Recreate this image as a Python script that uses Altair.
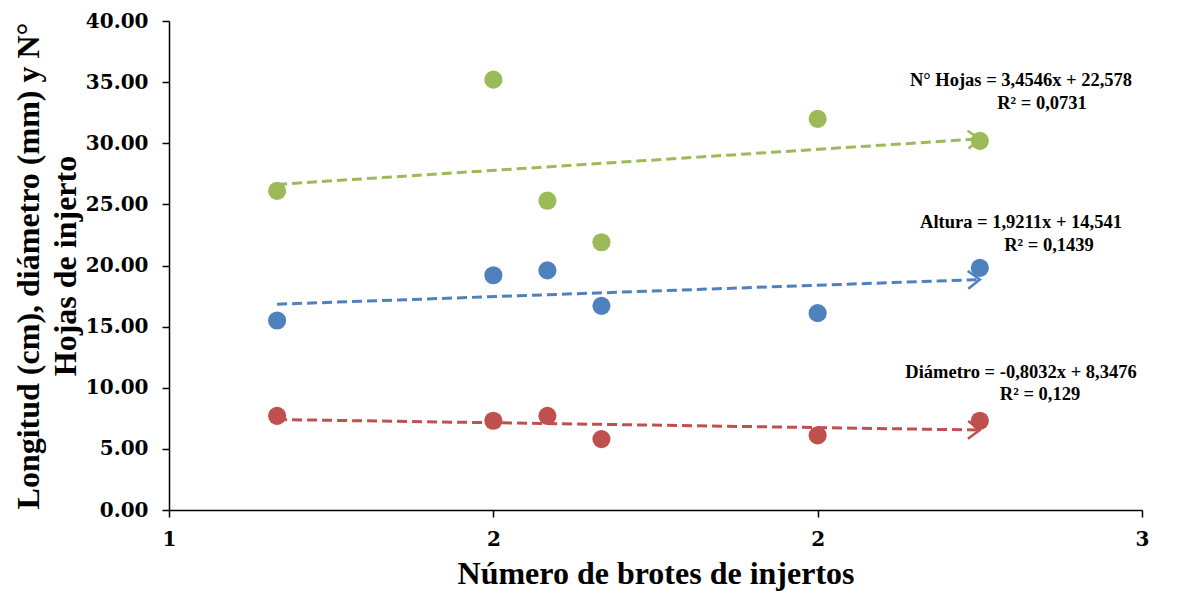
import altair as alt
import pandas as pd
import numpy as np

# ---- data ----
x_vals = [1.2222, 1.6667, 1.7778, 1.8889, 2.3333, 2.6667]
hojas = [26.1, 35.2, 25.3, 21.9, 32.0, 30.2]
altura = [15.5, 19.2, 19.6, 16.7, 16.1, 19.8]
diametro = [7.7, 7.3, 7.7, 5.8, 6.1, 7.3]

series_names = ["N° Hojas", "Altura", "Diámetro"]
series_colors = ["#9BBB59", "#4F81BD", "#C0504D"]
series_values = [hojas, altura, diametro]

eq_line1 = ["N° Hojas = 3,4546x + 22,578", "Altura = 1,9211x + 14,541", "Diámetro = -0,8032x + 8,3476"]
eq_line2 = ["R² = 0,0731", "R² = 0,1439", "R² = 0,129"]

x_ticks = [1, 5 / 3, 7 / 3, 3]
y_ticks = [0, 5, 10, 15, 20, 25, 30, 35, 40]

W, H = 973, 489
TICKFONT = "DejaVu Serif"
FONT = "Liberation Serif"

rows = []
for name, vals in zip(series_names, series_values):
    for xv, yv in zip(x_vals, vals):
        rows.append({"x": xv, "y": yv, "serie": name})
df = pd.DataFrame(rows)

# arrow angle (pixel space) per series
ang_rows = []
for name, vals in zip(series_names, series_values):
    slope = np.polyfit(x_vals, vals, 1)[0]
    pix = slope * (H / 40) / (W / 2)
    ang = (-np.degrees(np.arctan(pix))) % 360
    ang_rows.append({"serie": name, "angle": float(ang)})
df_ang = pd.DataFrame(ang_rows)

color = alt.Color("serie:N", scale=alt.Scale(domain=series_names, range=series_colors), legend=None)

xs = alt.X("x:Q", scale=alt.Scale(domain=[1, 3], nice=False, zero=False),
           axis=alt.Axis(values=x_ticks, format=".0f", title="Número de brotes de injertos",
                         grid=False, tickSize=7, labelPadding=12, titlePadding=9,
                         labelFlush=False, labelOverlap=False))
ys = alt.Y("y:Q", scale=alt.Scale(domain=[0, 40], nice=False),
           axis=alt.Axis(values=y_ticks, format=".2f",
                         title=["Longitud (cm), diámetro (mm) y N°", "Hojas de injerto"],
                         grid=False, tickSize=7, labelPadding=14, titlePadding=3,
                         labelFlush=False))

base = alt.Chart(df)

trend = base.transform_regression("x", "y", groupby=["serie"]).mark_line(
    strokeDash=[10, 5], strokeWidth=3
).encode(x=xs, y=ys, color=color)

arrow = base.transform_regression("x", "y", groupby=["serie"]).transform_joinaggregate(
    xmax="max(x)", groupby=["serie"]
).transform_filter("datum.x == datum.xmax").transform_lookup(
    lookup="serie", from_=alt.LookupData(df_ang, "serie", ["angle"])
).mark_point(
    shape="M-1,-0.75L0,0L-1,0.75", filled=False, strokeWidth=2.5, size=560, opacity=1
).encode(x=xs, y=ys, color=color, angle=alt.Angle("angle:Q", scale=None))

points = base.mark_circle(size=330, opacity=1).encode(x=xs, y=ys, color=color)

lab_x1 = [1022, 1022, 1022]
lab_y1 = [80, 222, 372]
lab_x2 = [1043, 1050, 1041]
lab_y2 = [103, 245, 394]

labels = []
for i in range(3):
    labels.append(alt.Chart(pd.DataFrame({"t": [eq_line1[i]]})).mark_text(
        font=FONT, fontSize=18.5, fontWeight="bold", color="black", align="center", baseline="middle"
    ).encode(text="t:N", x=alt.value(lab_x1[i] - 170), y=alt.value(lab_y1[i] - 21)))
    labels.append(alt.Chart(pd.DataFrame({"t": [eq_line2[i]]})).mark_text(
        font=FONT, fontSize=18.5, fontWeight="bold", color="black", align="center", baseline="middle"
    ).encode(text="t:N", x=alt.value(lab_x2[i] - 170), y=alt.value(lab_y2[i] - 21)))

chart = alt.layer(trend, arrow, points, *labels).properties(
    width=W, height=H,
    autosize=alt.AutoSizeParams(type="none"),
    padding={"left": 161, "top": 13, "right": 10, "bottom": 88},
).configure_view(stroke=None).configure_axis(
    labelFont=TICKFONT, labelFontSize=20, labelFontWeight="bold", labelColor="black",
    titleFont=FONT, titleFontWeight="bold", titleColor="black",
    domainColor="black", domainWidth=1.5, tickColor="black", tickWidth=1.5,
).configure_axisX(titleFontSize=32).configure_axisY(titleFontSize=32, titleLineHeight=37)

chart.save("out.html", embed_options={"renderer": "svg", "actions": False})
